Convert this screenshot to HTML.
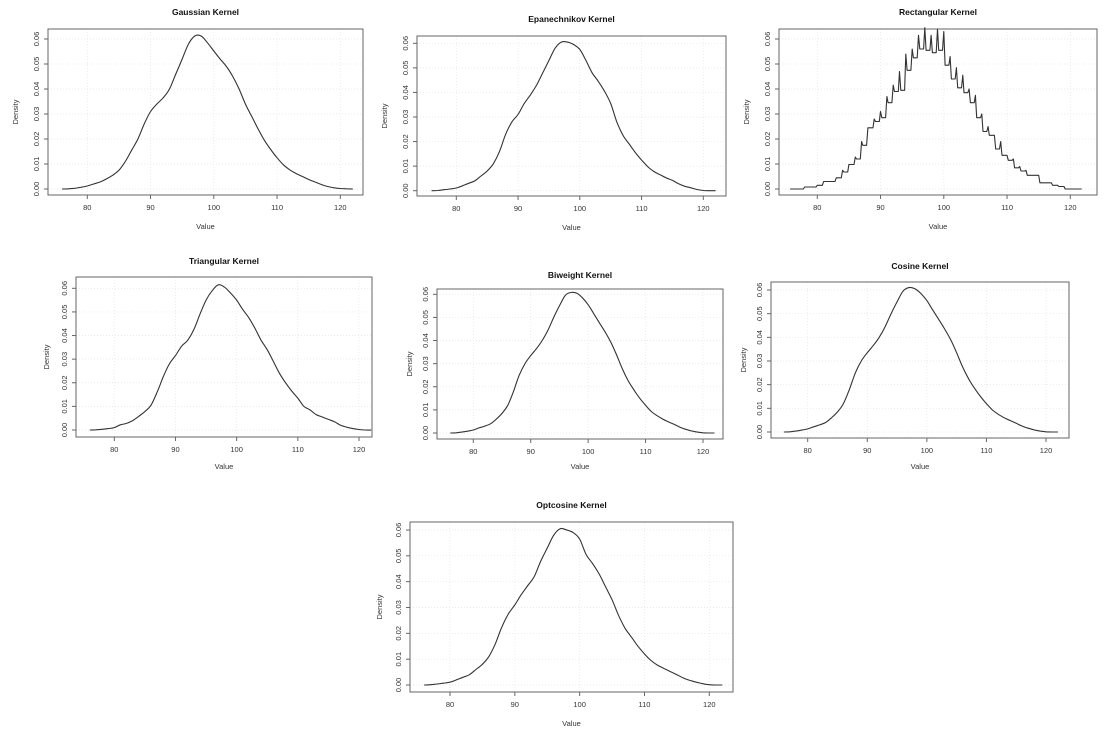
<!DOCTYPE html>
<html><head><meta charset="utf-8">
<style>
html,body{margin:0;padding:0;background:#fff;}
svg{display:block;font-family:"Liberation Sans",sans-serif;}
</style></head>
<body>
<svg id="c" width="1107" height="739" viewBox="0 0 1107 739"></svg>
<script>
// ---- data ----
const xTicks = [80, 90, 100, 110, 120];
const yTicks = [0, 0.01, 0.02, 0.03, 0.04, 0.05, 0.06];
const yTickLabels = ["0.00","0.01","0.02","0.03","0.04","0.05","0.06"];
const gridX = [76,77,78,79,80,81,82,83,84,85,86,87,88,89,90,91,92,93,94,95,96,97,98,99,100,101,102,103,104,105,106,107,108,109,110,111,112,113,114,115,116,117,118,119,120,121,122];
const gaussianY = [0,0.0001,0.0003,0.0007,0.0012,0.002,0.0028,0.004,0.0055,0.0075,0.011,0.0155,0.02,0.026,0.031,0.034,0.0365,0.04,0.046,0.052,0.058,0.0612,0.0612,0.0585,0.0552,0.052,0.049,0.045,0.04,0.034,0.029,0.024,0.0195,0.0158,0.0125,0.0097,0.0077,0.0062,0.005,0.0038,0.0028,0.0018,0.001,0.0005,0.0002,0.0001,0];
const epanY = [0,0.0001,0.0004,0.0007,0.0011,0.002,0.003,0.004,0.006,0.008,0.011,0.016,0.023,0.028,0.031,0.0355,0.039,0.043,0.048,0.053,0.058,0.0605,0.0605,0.0595,0.0575,0.053,0.048,0.0445,0.0405,0.0355,0.028,0.0225,0.019,0.0155,0.0125,0.0098,0.0078,0.0065,0.0052,0.0042,0.0028,0.0018,0.0012,0.0005,0.0001,0,0];
const triY = [0,0.0001,0.0003,0.0006,0.001,0.0022,0.0028,0.004,0.0058,0.0078,0.0105,0.016,0.0225,0.028,0.0315,0.0355,0.038,0.0425,0.049,0.055,0.059,0.0615,0.0605,0.058,0.055,0.051,0.0475,0.043,0.038,0.034,0.029,0.024,0.02,0.0165,0.0135,0.01,0.0085,0.0065,0.0055,0.0045,0.0035,0.002,0.0012,0.0006,0.0002,0,0];
const biweightY = [0,0.0001,0.0004,0.0008,0.0013,0.0022,0.003,0.004,0.006,0.0085,0.012,0.018,0.025,0.03,0.0335,0.0365,0.04,0.0445,0.05,0.055,0.0595,0.0608,0.0605,0.0585,0.0555,0.0515,0.0475,0.0435,0.039,0.0335,0.0275,0.0225,0.0185,0.015,0.012,0.0093,0.0075,0.006,0.0048,0.0037,0.0025,0.0016,0.0009,0.0004,0.0001,0,0];
const cosineY = [0,0.0001,0.0004,0.0008,0.0013,0.0022,0.003,0.004,0.006,0.0085,0.012,0.018,0.025,0.03,0.0335,0.0365,0.04,0.0445,0.05,0.055,0.0595,0.061,0.0605,0.0585,0.0555,0.0515,0.0475,0.0435,0.039,0.0335,0.0275,0.0225,0.0185,0.015,0.012,0.0093,0.0075,0.006,0.0048,0.0037,0.0025,0.0016,0.0009,0.0004,0.0001,0,0];
const optcosY = [0,0.0001,0.0004,0.0007,0.0011,0.002,0.003,0.004,0.006,0.008,0.011,0.016,0.0225,0.0275,0.031,0.035,0.0385,0.042,0.048,0.053,0.058,0.0605,0.06,0.059,0.0565,0.0505,0.047,0.043,0.038,0.033,0.027,0.022,0.0185,0.015,0.012,0.0095,0.0077,0.0064,0.0052,0.004,0.0027,0.0018,0.0011,0.0005,0.0001,0,0];
const rectX =    [78,80,81,83,84,85,86,87,88,89,90,91,92,93,94,95,96,97,98,99,100,101,102,103,104,105,106,107,108,109,110,111,112,113,115,117,118,119];
const rectPeak = [0.0008,0.0015,0.003,0.0045,0.0075,0.0098,0.0128,0.019,0.0245,0.028,0.031,0.037,0.0415,0.047,0.054,0.056,0.0615,0.0645,0.0615,0.064,0.063,0.053,0.0485,0.0455,0.04,0.0375,0.03,0.025,0.0215,0.019,0.0135,0.012,0.009,0.0075,0.0055,0.0025,0.0015,0.001];
const rectBase = [0.0008,0.0015,0.003,0.0045,0.0068,0.0098,0.012,0.0175,0.0245,0.027,0.0285,0.0345,0.039,0.0395,0.0475,0.0525,0.056,0.0555,0.0545,0.0555,0.0495,0.044,0.0405,0.0385,0.0345,0.0285,0.023,0.0215,0.016,0.0135,0.0115,0.0085,0.0072,0.0055,0.0025,0.0015,0.001,0];

// ---- layout ----
const panels = [
 {id:"gaussian", title:"Gaussian Kernel", bx:[48,363], by:[29,195], x80:87.3, x120:340.3, y0:189, y6:39, ty:12, vy:226, dx:15, yd:gaussianY},
 {id:"epanechnikov", title:"Epanechnikov Kernel", bx:[417,726], by:[36,196], x80:456.3, x120:703.3, y0:190.7, y6:43.3, ty:19, vy:227, dx:384, yd:epanY},
 {id:"rectangular", title:"Rectangular Kernel", bx:[779,1097], by:[29,195], x80:817.3, x120:1070.3, y0:189, y6:39, ty:12, vy:226, dx:746, rect:true},
 {id:"triangular", title:"Triangular Kernel", bx:[76,372], by:[277,437], x80:114.3, x120:359, y0:430, y6:288.3, ty:261, vy:466, dx:46, yd:triY},
 {id:"biweight", title:"Biweight Kernel", bx:[437,723], by:[289,439], x80:473.3, x120:703, y0:433, y6:294.3, ty:275, vy:466, dx:409, yd:biweightY},
 {id:"cosine", title:"Cosine Kernel", bx:[771,1069], by:[282,438], x80:807.7, x120:1046, y0:432, y6:290, ty:266, vy:466, dx:743, yd:cosineY},
 {id:"optcosine", title:"Optcosine Kernel", bx:[410,733], by:[522,692], x80:450, x120:709.3, y0:685, y6:530, ty:505, vy:723, dx:379, yd:optcosY}
];

const NS = "http://www.w3.org/2000/svg";
const svg = document.getElementById("c");
function mk(tag, attrs, parent){
  const e = document.createElementNS(NS, tag);
  for (const k in attrs) e.setAttribute(k, attrs[k]);
  parent.appendChild(e);
  return e;
}
function smoothPath(pts){
  let d = "M" + pts[0][0].toFixed(1) + "," + pts[0][1].toFixed(1);
  for (let i = 0; i < pts.length - 1; i++) {
    const p0 = pts[Math.max(0, i-1)], p1 = pts[i], p2 = pts[i+1], p3 = pts[Math.min(pts.length-1, i+2)];
    const c1x = p1[0] + (p2[0]-p0[0])/6, c1y = p1[1] + (p2[1]-p0[1])/6;
    const c2x = p2[0] - (p3[0]-p1[0])/6, c2y = p2[1] - (p3[1]-p1[1])/6;
    d += " C" + c1x.toFixed(1) + "," + c1y.toFixed(1) + " " + c2x.toFixed(1) + "," + c2y.toFixed(1) + " " + p2[0].toFixed(1) + "," + p2[1].toFixed(1);
  }
  return d;
}
panels.forEach(p => {
  const g = mk("g", {}, svg);
  
  
  const sx = v => p.x80 + (v - 80) * (p.x120 - p.x80) / 40;
  const sy = v => p.y0 - v * (p.y0 - p.y6) / 0.06;
  xTicks.forEach(t => {
    const l = mk("line", {x1:sx(t), x2:sx(t), y1:p.by[0], y2:p.by[1], stroke:"#e4e4e4", "stroke-width":0.7, "stroke-dasharray":"1,2"}, g);
    
    
  });
  yTicks.forEach(t => {
    const l = mk("line", {x1:p.bx[0], x2:p.bx[1], y1:sy(t), y2:sy(t), stroke:"#e4e4e4", "stroke-width":0.7, "stroke-dasharray":"1,2"}, g);
    
    
  });
  const box = mk("rect", {x:p.bx[0], y:p.by[0], width:p.bx[1]-p.bx[0], height:p.by[1]-p.by[0], fill:"none", stroke:"#666", "stroke-width":1}, g);
  
  
  xTicks.forEach(t => {
    mk("line", {x1:sx(t), x2:sx(t), y1:p.by[1], y2:p.by[1]+4, stroke:"#666", "stroke-width":1}, g);
    const tx = mk("text", {x:sx(t), y:p.by[1]+15, "font-size":7.5, fill:"#333", "text-anchor":"middle"}, g);
    tx.textContent = t;
    
    
  });
  yTicks.forEach((t,i) => {
    mk("line", {x1:p.bx[0]-4, x2:p.bx[0], y1:sy(t), y2:sy(t), stroke:"#666", "stroke-width":1}, g);
    const tx = mk("text", {x:0, y:0, "font-size":7.5, fill:"#333", "text-anchor":"middle", transform:`translate(${p.bx[0]-9},${sy(t)}) rotate(-90)`}, g);
    tx.textContent = yTickLabels[i];
    
    
  });
  const ti = mk("text", {x:(p.bx[0]+p.bx[1])/2, y:p.ty+3, "font-size":8.5, "font-weight":"bold", fill:"#111", "text-anchor":"middle"}, g);
  ti.textContent = p.title;
  
  
  const xl = mk("text", {x:(p.bx[0]+p.bx[1])/2, y:p.vy+3, "font-size":7.5, fill:"#333", "text-anchor":"middle"}, g);
  xl.textContent = "Value";
  
  
  const yl = mk("text", {x:0, y:0, "font-size":7.5, fill:"#333", "text-anchor":"middle", transform:`translate(${p.dx+3},${(p.by[0]+p.by[1])/2}) rotate(-90)`}, g);
  yl.textContent = "Density";
  
  
  let d;
  if (p.rect) {
    const pts = [[sx(75.7), sy(0)]];
    let prev = 0;
    rectX.forEach((x,i) => {
      pts.push([sx(x-0.2), sy(prev)]);
      pts.push([sx(x), sy(rectPeak[i])]);
      pts.push([sx(x+0.2), sy(rectBase[i])]);
      prev = rectBase[i];
    });
    pts.push([sx(121.8), sy(0)]);
    d = "M" + pts.map(q => q[0].toFixed(1)+","+q[1].toFixed(1)).join(" L");
  } else {
    const pts = gridX.map((x,i) => [sx(x), sy(p.yd[i])]);
    d = smoothPath(pts);
  }
  const path = mk("path", {d:d, fill:"none", stroke:"#333", "stroke-width":1.1, "stroke-linejoin":"round"}, g);
  
  
});
</script>
</body></html>
